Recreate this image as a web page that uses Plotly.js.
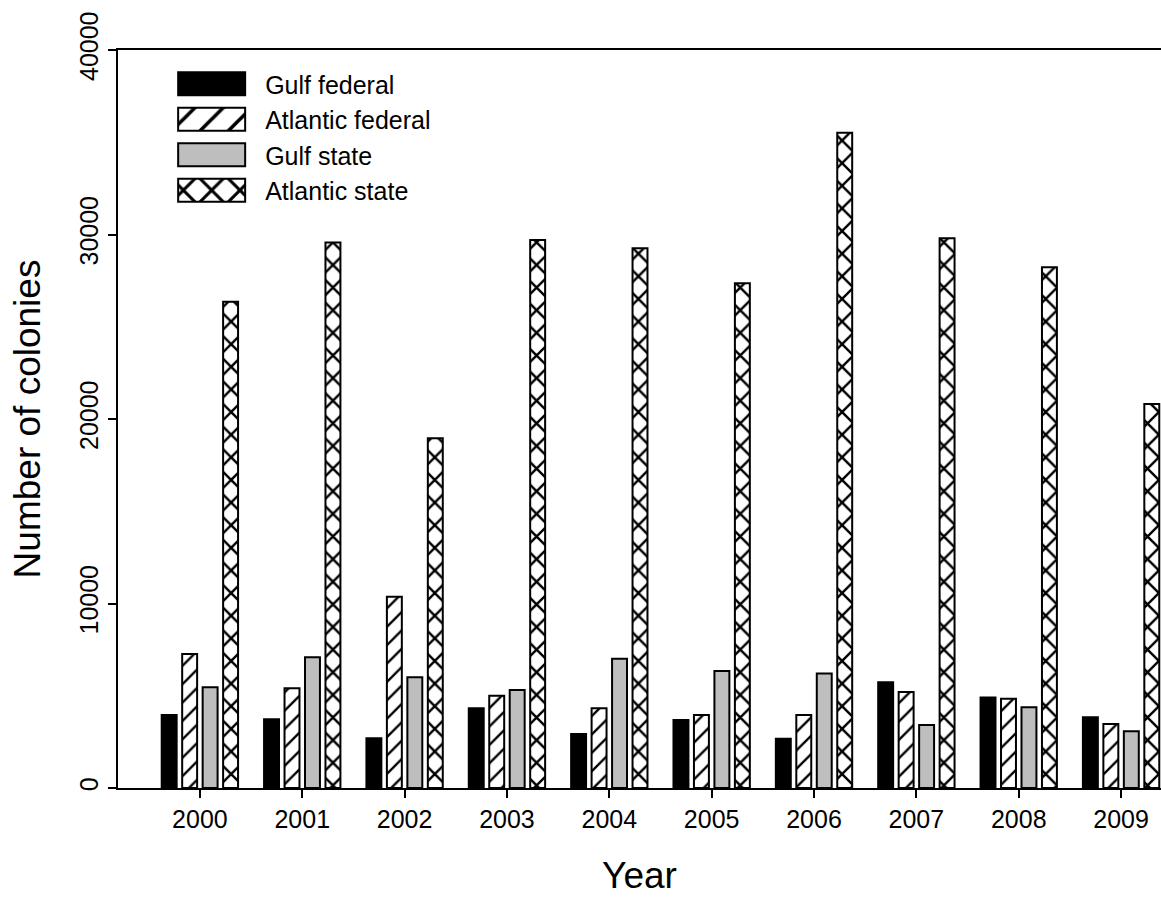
<!DOCTYPE html>
<html>
<head>
<meta charset="utf-8">
<script src="https://cdn.plot.ly/plotly-3.0.1.min.js"></script>
<style>
  html, body { margin: 0; padding: 0; background: #fff; }
  #chart { width: 1161px; height: 899px; }
</style>
</head>
<body>
<div id="chart"></div>
<script>
// Coral colony counts per year, by region and jurisdiction
const years = ['2000', '2001', '2002', '2003', '2004', '2005', '2006', '2007', '2008', '2009'];
const gulfFederal     = [3950, 3720, 2690, 4320, 2930, 3690, 2670, 5730, 4910, 3830];
const atlanticFederal = [7260, 5400, 10370, 5000, 4320, 3960, 3960, 5200, 4840, 3470];
const gulfState       = [5460, 7080, 6000, 5310, 7010, 6340, 6200, 3420, 4370, 3070];
const atlanticState   = [26360, 29560, 18950, 29700, 29250, 27360, 35520, 29790, 28220, 20810];
const yTicks = [0, 10000, 20000, 30000, 40000];

const FONT = 'Liberation Sans, Arial, sans-serif';
const outline = { color: '#000', width: 2 };

function barTrace(name, values, marker) {
  return {
    type: 'bar',
    name: name,
    x: years,
    y: values,
    marker: Object.assign({ line: outline }, marker),
    hoverinfo: 'x+y+name'
  };
}

const traces = [
  barTrace('Gulf federal', gulfFederal, { color: '#000' }),
  barTrace('Atlantic federal', atlanticFederal, {
    color: '#fff',
    pattern: { shape: '/', fgcolor: '#000', bgcolor: '#fff', size: 13, solidity: 0.18 }
  }),
  barTrace('Gulf state', gulfState, { color: '#bebebe' }),
  barTrace('Atlantic state', atlanticState, {
    color: '#fff',
    pattern: { shape: 'x', fgcolor: '#000', bgcolor: '#fff', size: 16, solidity: 0.28 }
  })
];

// Plot area: top at 50px, bottom (zero line) at 788px
const H = 899, TOP = 50, BOTTOM_M = 40, ZERO_Y = 788;
const innerH = H - TOP - BOTTOM_M;

const layout = {
  width: 1161,
  height: H,
  paper_bgcolor: '#fff',
  plot_bgcolor: '#fff',
  margin: { l: 118, r: 0, t: TOP, b: BOTTOM_M },
  font: { family: FONT, color: '#000' },
  barmode: 'group',
  bargap: 0.2,
  bargroupgap: 0.27,
  showlegend: true,
  legend: {
    x: 0.0385, y: 1 - (61 - TOP) / innerH, xanchor: 'left', yanchor: 'top',
    bgcolor: 'rgba(0,0,0,0)',
    borderwidth: 0,
    itemwidth: 97,
    traceorder: 'normal',
    font: { family: FONT, size: 25, color: '#000' }
  },
  xaxis: {
    type: 'category',
    range: [-0.8, 9.39],
    showline: true, linecolor: '#000', linewidth: 2,
    mirror: true,
    ticks: 'outside', ticklen: 8, tickwidth: 2, tickcolor: '#000',
    tickfont: { family: FONT, size: 25, color: '#000' },
    showgrid: false, zeroline: false,
    automargin: false,
    title: { text: 'Year', font: { family: FONT, size: 37, color: '#000' }, standoff: 30 }
  },
  yaxis: {
    domain: [(H - BOTTOM_M - ZERO_Y) / innerH, 1],
    range: [0, 40000],
    tickvals: yTicks,
    ticktext: yTicks.map(String),
    tickangle: -90,
    showline: true, linecolor: '#000', linewidth: 2,
    ticks: 'outside', ticklen: 8, tickwidth: 2, tickcolor: '#000',
    tickfont: { family: FONT, size: 25, color: '#000' },
    showgrid: false, zeroline: false,
    automargin: false,
    title: { text: 'Number of colonies', font: { family: FONT, size: 37, color: '#000' }, standoff: 23 }
  }
};

Plotly.newPlot('chart', traces, layout, { staticPlot: true }).then(function () {
  // Enlarge the legend swatches into wide rectangles with coarser fill patterns
  document.querySelectorAll('.legend .legendpoints path').forEach(function (p) {
    p.setAttribute('d', 'M-33.5,11.5H33.5V-11.5H-33.5Z');
    p.style.strokeWidth = '2px';
    p.style.stroke = '#000';
    const m = /url\(["']?#([^"')]+)["']?\)/.exec(p.style.fill || p.getAttribute('fill') || '');
    if (m) {
      const pat = document.getElementById(m[1]);
      if (pat) pat.setAttribute('patternTransform', 'scale(2)');
    }
  });
});
</script>
</body>
</html>
